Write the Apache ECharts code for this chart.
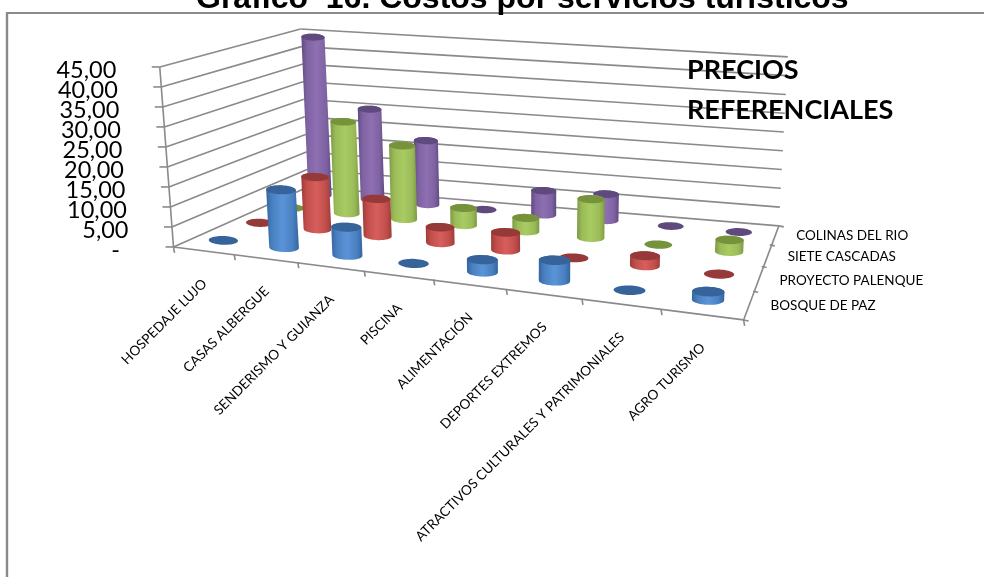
<!DOCTYPE html>
<html><head><meta charset="utf-8">
<style>html,body{margin:0;padding:0;background:#fff}#c{width:984px;height:577px}</style>
<script src="https://cdn.jsdelivr.net/npm/echarts@6/dist/echarts.min.js"></script>
</head><body><div id="c"></div>
<script>
const categories = ['HOSPEDAJE LUJO','CASAS ALBERGUE','SENDERISMO Y GUIANZA','PISCINA','ALIMENTACIÓN','DEPORTES EXTREMOS','ATRACTIVOS CULTURALES Y PATRIMONIALES','AGRO TURISMO'];
const seriesNames = ['BOSQUE DE PAZ','PROYECTO PALENQUE','SIETE CASCADAS','COLINAS DEL RIO'];
const bosque = [0,14.5,7,0,3,5,0,2];
const palenque = [0,13.5,9.5,4,4.5,0,2.5,0];
const siete = [0,24.5,19.5,4.5,3.5,10,0,3];
const colinas = [44,25,17.5,0,6.5,7,0,0];
const yTicks = ['-','5,00','10,00','15,00','20,00','25,00','30,00','35,00','40,00','45,00'];
const title = 'Gráfico  16. Costos por servicios turísticos';
const note = ['PRECIOS','REFERENCIALES'];
const values = [bosque,palenque,siete,colinas];
const palette = [
 {edge:'#34659f',base:'#4a80c0',light:'#5a94d8',top:'#36639a'},
 {edge:'#9a3d3a',base:'#c24e4b',light:'#d65f5c',top:'#953a38'},
 {edge:'#7d9a44',base:'#9abb58',light:'#a9cb63',top:'#76933c'},
 {edge:'#5f4a80',base:'#7f62a2',light:'#8e70b2',top:'#5f4a7e'}
];
const lineColor = '#8a8a8a';

// floor projection: bilinear between the centres of the four corner cells, with a perspective warp per direction
const warp=(x,k)=>x/(x+k*(1-x));
const anchors={fl:[222,239.5],fr:[708,300],br:[737,232],bl:[320,195]};
function floor(u,t){
  const a=warp((u-1/16)/(14/16),1.155),b=warp((t-1/8)/(6/8),0.815);
  const mix=(i)=>{
    const front=anchors.fl[i]+(anchors.fr[i]-anchors.fl[i])*a;
    const back=anchors.bl[i]+(anchors.br[i]-anchors.bl[i])*a;
    return front+(back-front)*b;
  };
  const nearLeft=Math.pow((1-u)*(1-t),4), farRight=Math.pow(u*t,4);
  return [mix(0)+3*nearLeft+4*farRight,mix(1)+2*nearLeft];
}
const vanish=[530,4917];
const heights=[180,192,169,158]; // wall height at front-left, front-right, back-right, back-left
function proj(u,t,w){
  const p=floor(u,t);
  const H=(heights[0]*(1-u)+heights[1]*u)*(1-t)+(heights[3]*(1-u)+heights[2]*u)*t;
  const dy=vanish[1]-p[1],dx=vanish[0]-p[0];
  return [p[0]-dx/dy*H*w,p[1]-H*w];
}
function unit(api,c){return [c[0]/api.getWidth(),1-c[1]/api.getHeight()];}
function ellipse(c,rx){
  const ry=rx*0.3,pts=[];
  for(let k=0;k<48;k++){const a=k/48*Math.PI*2;const ca=Math.cos(a),sa=Math.sin(a);
    pts.push([c[0]+rx*ca,c[1]+ry*sa+rx*ca*0.03]);}
  return pts;
}
function hull(points){
  const p=points.slice().sort((a,b)=>a[0]-b[0]||a[1]-b[1]);
  const cross=(o,a,b)=>(a[0]-o[0])*(b[1]-o[1])-(a[1]-o[1])*(b[0]-o[0]);
  const lo=[];for(const q of p){while(lo.length>1&&cross(lo[lo.length-2],lo[lo.length-1],q)<=0)lo.pop();lo.push(q);}
  const up=[];for(const q of p.slice().reverse()){while(up.length>1&&cross(up[up.length-2],up[up.length-1],q)<=0)up.pop();up.push(q);}
  return lo.slice(0,-1).concat(up.slice(0,-1));
}
function renderCylinder(params,api){
  const s=api.value(2),col=palette[s];
  const [u,w]=unit(api,api.coord([api.value(0),api.value(1)]));
  const t=(s+0.5)/4;
  const b=proj(u,t,0),tp=proj(u,t,w);
  const rx=(29-2*s+3.5*u)/2;
  const eb=ellipse(b,rx),et=ellipse(tp,rx);
  const children=[];
  if(w>0){
    children.push({type:'polygon',shape:{points:hull(eb.concat(et))},silent:true,
      style:{fill:{type:'linear',x:0,y:0,x2:1,y2:0,colorStops:[
        {offset:0,color:col.edge},{offset:0.18,color:col.base},{offset:0.5,color:col.light},
        {offset:0.82,color:col.base},{offset:1,color:col.edge}]}}});
  }
  children.push({type:'polygon',shape:{points:et},silent:true,style:{fill:col.top}});
  return {type:'group',children};
}
function line(a,b,width){return {type:'line',silent:true,shape:{x1:a[0],y1:a[1],x2:b[0],y2:b[1]},style:{stroke:lineColor,lineWidth:width||1.6}};}
function renderGrid(params,api){
  const w=unit(api,api.coord([0,api.value(0)]))[1];
  const a=proj(0,0,w),b=proj(0,1,w),c=proj(1,1,w);
  const label=yTicks[params.dataIndex];
  const shift=label==='-'?-10:0;
  return {type:'group',children:[
    line(a,b),line(b,c),line([a[0]-8,a[1]],a),
    {type:'text',silent:true,style:{text:label,x:a[0]-43.5+shift,y:a[1]+3,align:'right',verticalAlign:'middle',
      font:'23.5px Lato',fill:'#000'}}
  ]};
}
function renderCat(params,api){
  const i=params.dataIndex;
  const u=unit(api,api.coord([api.value(0),0]))[0];
  const p=proj(u,0,0);
  return {type:'text',silent:true,x:p[0]+1,y:p[1]+31,rotation:Math.PI/4,
    style:{text:categories[i],x:0,y:0,align:'right',verticalAlign:'middle',font:'13.6px Lato',fill:'#000'}};
}
function renderDepth(params,api){
  const s=api.value(0);
  const p=proj(1,(s+0.5)/4,0);
  return {type:'text',silent:true,style:{text:seriesNames[s],x:p[0]+22,y:p[1]+(s===3?1:(s===2?1:(s===1?2:1))),align:'left',verticalAlign:'middle',font:'13.5px Lato',fill:'#000'}};
}
function renderFrame(params,api){
  const kids=[line(proj(0,0,0),proj(0,0,1)),line(proj(0,0,0),proj(1,0,0)),line(proj(1,0,0),proj(1,1,0))];
  for(let k=0;k<=categories.length;k++){const p=proj(k/categories.length,0,0);kids.push(line(p,[p[0]+1,p[1]+6]));}
  for(let k=0;k<=seriesNames.length;k++){const p=proj(1,k/seriesNames.length,0);kids.push(line(p,[p[0]+5,p[1]+1]));}
  return {type:'group',children:kids};
}
const cylinderSeries=[3,2,1,0].map(s=>({
  type:'custom',name:seriesNames[s],renderItem:renderCylinder,clip:false,silent:true,z:5,
  encode:{x:0,y:1},
  data:values[s].map((v,i)=>[i,v,s])
}));
const chart=echarts.init(document.getElementById('c'),null,{renderer:'canvas'});
chart.setOption({
  animation:false,backgroundColor:'#fff',
  title:{text:title,left:191,top:-22,textStyle:{fontFamily:'Liberation Sans',fontWeight:'bold',fontSize:32,color:'#000'},z:20},
  grid:{left:0,right:0,top:0,bottom:0},
  xAxis:{type:'category',data:categories,show:false},
  yAxis:{type:'value',min:0,max:45,interval:5,show:false},
  graphic:[
    {type:'line',z:1,shape:{x1:6,y1:13,x2:984,y2:13},style:{stroke:lineColor,lineWidth:2},silent:true},
    {type:'line',z:1,shape:{x1:7,y1:13,x2:7,y2:577},style:{stroke:lineColor,lineWidth:2.4},silent:true},
    {type:'text',z:30,left:687,top:57,style:{text:note[0],font:'bold 27px Lato',fill:'#000'},silent:true},
    {type:'text',z:30,left:687,top:97,style:{text:note[1],font:'bold 27px Lato',fill:'#000'},silent:true}
  ],
  series:[
    {type:'custom',name:'grid',renderItem:renderGrid,clip:false,silent:true,z:2,encode:{x:1,y:0},
     data:yTicks.map((_,i)=>[i*5,0])},
    {type:'custom',name:'frame',renderItem:renderFrame,clip:false,silent:true,z:2,encode:{x:0,y:1},data:[[0,0]]},
    {type:'custom',name:'cat',renderItem:renderCat,clip:false,silent:true,z:3,encode:{x:0,y:1},
     data:categories.map((_,i)=>[i,0])},
    {type:'custom',name:'depth',renderItem:renderDepth,clip:false,silent:true,z:3,encode:{x:1,y:1},
     data:seriesNames.map((_,i)=>[i,0])},
    ...cylinderSeries
  ]
});
</script></body></html>
